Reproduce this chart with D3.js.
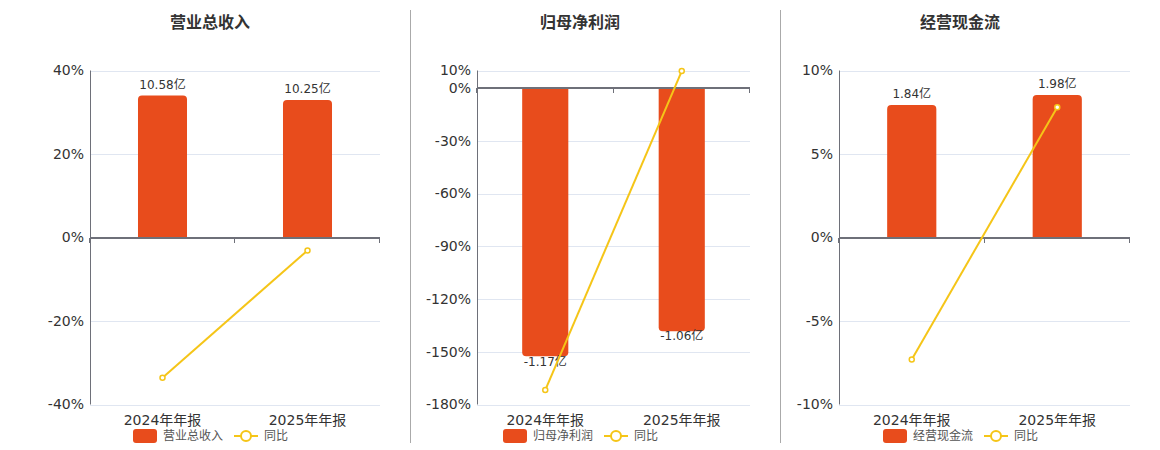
<!DOCTYPE html>
<html>
<head>
<meta charset="utf-8">
<script src="https://cdn.jsdelivr.net/npm/d3@7/dist/d3.min.js"></script>
<style>
  html, body { margin: 0; padding: 0; background: #fff; }
  svg { display: block; font-family: "DejaVu Sans", "Noto Sans CJK SC", sans-serif; }
</style>
</head>
<body>
<div id="chart"></div>
<script>
// data
const categories = ['2024年年报', '2025年年报'];

const revenueName = '营业总收入';
const revenueValues = [10.58, 10.25];   // 亿
const revenueYoY = [-33.6, -3.1];       // %
const revenueTicks = [40, 20, 0, -20, -40];

const profitName = '归母净利润';
const profitValues = [-1.17, -1.06];
const profitYoY = [-171.8, 9.7];
const profitTicks = [10, 0, -30, -60, -90, -120, -150, -180];

const cashName = '经营现金流';
const cashValues = [1.84, 1.98];
const cashYoY = [-7.3, 7.8];
const cashTicks = [10, 5, 0, -5, -10];

const yoyName = '同比';

const W = 1160, H = 450;
const barColor = '#e84c1c';
const lineColor = '#f5c518';
const axisColor = '#6e7079';
const gridColor = '#e0e6f1';
const textColor = '#333';

const svg = d3.select('#chart').append('svg')
  .attr('width', W).attr('height', H);

// panel dividers
[410.5, 780.5].forEach(x => {
  svg.append('line')
    .attr('x1', x).attr('x2', x)
    .attr('y1', 10).attr('y2', 443)
    .attr('stroke', '#aaa').attr('stroke-width', 1);
});

// rounded only on the far end of the bar
function barPath(x, w, y0, y1, r){
  const up = y1 < y0;
  const hgt = Math.abs(y1 - y0);
  r = Math.min(r, hgt, w / 2);
  if (up) {
    return `M${x},${y0} V${y1 + r} Q${x},${y1} ${x + r},${y1} H${x + w - r} Q${x + w},${y1} ${x + w},${y1 + r} V${y0} Z`;
  }
  return `M${x},${y0} V${y1 - r} Q${x},${y1} ${x + r},${y1} H${x + w - r} Q${x + w},${y1} ${x + w},${y1 - r} V${y0} Z`;
}

function drawPanel(opt){
  const { name, values, yoy, ticks, left, right, center, barMax } = opt;
  const top = 70.5, bottom = 404.5;
  const g = svg.append('g');

  const x = d3.scaleBand().domain(categories).range([left, right]);
  const pctMin = d3.min(ticks), pctMax = d3.max(ticks);
  const yPct = d3.scaleLinear().domain([pctMin, pctMax]).range([bottom, top]);
  // hidden value axis sharing the zero line
  const k = barMax / Math.max(Math.abs(pctMin), Math.abs(pctMax));
  const yVal = d3.scaleLinear().domain([pctMin * k, pctMax * k]).range([bottom, top]);

  // title
  g.append('text')
    .attr('x', center).attr('y', 28)
    .attr('text-anchor', 'middle')
    .attr('font-size', 16).attr('font-weight', 'bold')
    .attr('fill', textColor)
    .text(name);

  // grid
  g.selectAll('line.grid')
    .data(ticks.filter(t => t !== 0))
    .join('line')
    .attr('class', 'grid')
    .attr('x1', left).attr('x2', right)
    .attr('y1', d => Math.round(yPct(d)) + 0.5)
    .attr('y2', d => Math.round(yPct(d)) + 0.5)
    .attr('stroke', gridColor);

  // y tick labels
  g.selectAll('text.ytick')
    .data(ticks)
    .join('text')
    .attr('class', 'ytick')
    .attr('x', left - 6)
    .attr('y', d => yPct(d))
    .attr('dy', '0.35em')
    .attr('text-anchor', 'end')
    .attr('font-size', 14)
    .attr('fill', textColor)
    .text(d => d + '%');

  // bars
  const bw = x.bandwidth() * 0.338;
  const zeroY = yVal(0);
  g.selectAll('path.bar')
    .data(values)
    .join('path')
    .attr('class', 'bar')
    .attr('fill', barColor)
    .attr('d', (d, i) => barPath(x(categories[i]) + (x.bandwidth() - bw) / 2, bw, zeroY, yVal(d), 4));

  // bar labels
  g.selectAll('text.vlabel')
    .data(values)
    .join('text')
    .attr('class', 'vlabel')
    .attr('x', (d, i) => x(categories[i]) + x.bandwidth() / 2)
    .attr('y', d => d >= 0 ? yVal(d) - 11 : yVal(d) + 5)
    .attr('dy', '0.35em')
    .attr('text-anchor', 'middle')
    .attr('font-size', 12)
    .attr('fill', textColor)
    .text(d => d.toFixed(2) + '亿');

  // y axis line
  g.append('line')
    .attr('x1', left + 0.5).attr('x2', left + 0.5)
    .attr('y1', top).attr('y2', bottom)
    .attr('stroke', axisColor);

  // category axis on the zero line
  const zy = Math.round(yPct(0));
  g.append('line')
    .attr('x1', left).attr('x2', right)
    .attr('y1', zy).attr('y2', zy)
    .attr('stroke', axisColor).attr('stroke-width', 2);
  const edges = [left, ...categories.map(c => x(c) + x.bandwidth())];
  g.selectAll('line.xtick')
    .data(edges)
    .join('line')
    .attr('class', 'xtick')
    .attr('x1', d => Math.round(d) - 0.5).attr('x2', d => Math.round(d) - 0.5)
    .attr('y1', zy).attr('y2', zy + 5)
    .attr('stroke', axisColor);

  // category labels at the bottom
  g.selectAll('text.cat')
    .data(categories)
    .join('text')
    .attr('class', 'cat')
    .attr('x', d => x(d) + x.bandwidth() / 2)
    .attr('y', 425)
    .attr('text-anchor', 'middle')
    .attr('font-size', 14)
    .attr('fill', textColor)
    .text(d => d);

  // yoy line
  const pts = yoy.map((v, i) => [x(categories[i]) + x.bandwidth() / 2, yPct(v)]);
  g.append('path')
    .datum(pts)
    .attr('fill', 'none')
    .attr('stroke', lineColor)
    .attr('stroke-width', 2)
    .attr('d', d3.line());
  g.selectAll('circle.pt')
    .data(pts)
    .join('circle')
    .attr('class', 'pt')
    .attr('cx', d => d[0]).attr('cy', d => d[1])
    .attr('r', 2.5)
    .attr('fill', '#fff')
    .attr('stroke', lineColor)
    .attr('stroke-width', 1.5);

  // legend
  const ly = 436;
  g.append('rect')
    .attr('x', center - 77).attr('y', ly - 7)
    .attr('width', 24).attr('height', 14)
    .attr('rx', 3)
    .attr('fill', barColor);
  g.append('text')
    .attr('x', center - 47).attr('y', ly)
    .attr('dy', '0.35em')
    .attr('font-size', 12)
    .attr('fill', '#555')
    .text(name);
  g.append('line')
    .attr('x1', center + 24).attr('x2', center + 48)
    .attr('y1', ly).attr('y2', ly)
    .attr('stroke', lineColor).attr('stroke-width', 2);
  g.append('circle')
    .attr('cx', center + 36).attr('cy', ly)
    .attr('r', 5)
    .attr('fill', '#fff')
    .attr('stroke', lineColor).attr('stroke-width', 2);
  g.append('text')
    .attr('x', center + 54).attr('y', ly)
    .attr('dy', '0.35em')
    .attr('font-size', 12)
    .attr('fill', '#555')
    .text(yoyName);
}

drawPanel({ name: revenueName, values: revenueValues, yoy: revenueYoY, ticks: revenueTicks,
  left: 90, right: 380, center: 210, barMax: 12.45 });
drawPanel({ name: profitName, values: profitValues, yoy: profitYoY, ticks: profitTicks,
  left: 477, right: 750, center: 580, barMax: 1.38 });
drawPanel({ name: cashName, values: cashValues, yoy: cashYoY, ticks: cashTicks,
  left: 839, right: 1130, center: 960, barMax: 2.32 });
</script>
</body>
</html>
